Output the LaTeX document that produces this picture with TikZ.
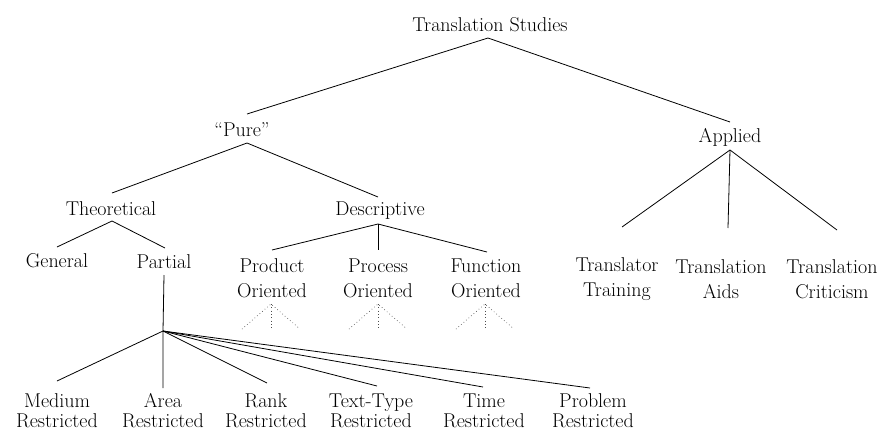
\documentclass[tikz,border=0pt]{standalone}
\usepackage{fontspec}
\begin{document}
\begin{tikzpicture}[x=0.75pt,y=-0.75pt,
  lbl/.style={font=\fontsize{15}{18.75}\selectfont\addfontfeatures{FakeBold=0.35}, inner sep=0pt, align=center},
  lblb/.style={font=\fontsize{15}{15}\selectfont\addfontfeatures{FakeBold=0.35}, inner sep=0pt, align=center},
  br/.style={line width=0.6pt},
  dt/.style={dotted, line width=0.5pt, black!70}]
\useasboundingbox (0,0) rectangle (889,436);
% labels
\node[lbl] (ts) at (490,25) {Translation Studies};
\node[lbl] (pure) at (242,130) {``Pure''};
\node[lbl] (app) at (730,137) {Applied};
\node[lbl] (theo) at (111,209) {Theoretical};
\node[lbl] (desc) at (380,211) {Descriptive};
\node[lbl] (gen) at (57,261) {General};
\node[lbl] (part) at (164,262) {Partial};
\node[lbl] (prod) at (272,278) {Product\\Oriented};
\node[lbl] (proc) at (378,278) {Process\\Oriented};
\node[lbl] (func) at (486,278) {Function\\Oriented};
\node[lbl] (tt) at (617,279) {Translator\\Training};
\node[lbl] (ta) at (721,279) {Translation\\Aids};
\node[lbl] (tc) at (832,279) {Translation\\Criticism};
\node[lblb] (med) at (57,411) {Medium\\Restricted};
\node[lblb] (area) at (163,411) {Area\\Restricted};
\node[lblb] (rank) at (266,411) {Rank\\Restricted};
\node[lblb] (tty) at (371,411) {Text-Type\\Restricted};
\node[lblb] (time) at (484,411) {Time\\Restricted};
\node[lblb] (prob) at (593,411) {Problem\\Restricted};
% branch points
\coordinate (ts-b) at (488,38);
\coordinate (pure-t) at (247,114);
\coordinate (pure-b) at (247,143);
\coordinate (app-t) at (730,122);
\coordinate (app-b) at (730,150);
\coordinate (theo-t) at (112,193);
\coordinate (theo-b) at (112,221);
\coordinate (desc-t) at (378,197);
\coordinate (desc-b) at (378,224);
\coordinate (gen-t) at (57,247);
\coordinate (part-t) at (165,248);
\coordinate (part-b) at (164,275);
\coordinate (prod-t) at (272,250);
\coordinate (proc-t) at (378,250);
\coordinate (func-t) at (487,252);
\coordinate (tt-t) at (622,227);
\coordinate (ta-t) at (728,228);
\coordinate (tc-t) at (837,230);
\coordinate (fan) at (163,331);
\coordinate (med-t) at (57,381);
\coordinate (area-t) at (163,388);
\coordinate (rank-t) at (267,383);
\coordinate (tty-t) at (377,386);
\coordinate (time-t) at (483,387);
\coordinate (prob-t) at (590,388);
% connectors
\draw[br] (pure-t) -- (ts-b) -- (app-t);
\draw[br] (theo-t) -- (pure-b) -- (desc-t);
\draw[br] (gen-t) -- (theo-b) -- (part-t);
\draw[br] (prod-t) -- (desc-b) -- (func-t);
\draw[br] (desc-b) -- (proc-t);
\draw[br] (tt-t) -- (app-b) -- (tc-t);
\draw[br] (app-b) -- (ta-t);
\draw[br] (part-b) -- (fan) -- (area-t);
\foreach \t in {med-t,rank-t,tty-t,time-t,prob-t} \draw[br] (fan) -- (\t);
% dotted triangles
\foreach \n/\x in {prod/271,proc/378,func/485}{
  \coordinate (\n-a) at (\x,304);
  \coordinate (\n-l) at ({\x-29},329);
  \coordinate (\n-r) at ({\x+29},329);
  \coordinate (\n-m) at (\x,329);
  \draw[dt] (\n-l) -- (\n-a) -- (\n-r);
  \draw[dt] (\n-a) -- (\n-m);
}
\end{tikzpicture}
\end{document}
